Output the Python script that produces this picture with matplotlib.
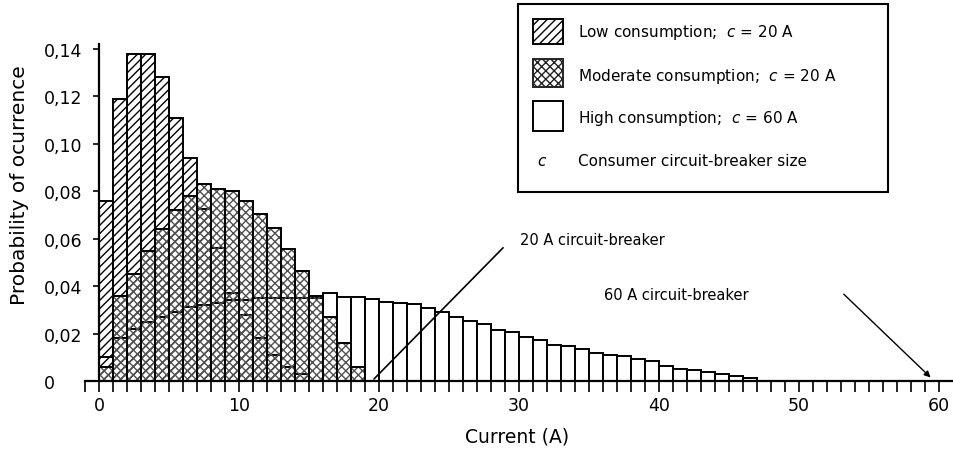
import matplotlib
matplotlib.use("Agg")
import matplotlib.pyplot as plt
import numpy as np
from matplotlib.patches import Rectangle
from matplotlib.ticker import MultipleLocator, FixedLocator

plt.rcParams['font.family'] = ['DejaVu Sans']
plt.rcParams['mathtext.fontset'] = 'dejavusans'
plt.rcParams['hatch.linewidth'] = 1.0

# probability of each 1 A current class (class i covers i..i+1 A)
low = [0.076, 0.119, 0.138, 0.138, 0.128, 0.111, 0.094, 0.0725, 0.056, 0.037,
       0.028, 0.018, 0.011, 0.006, 0.003]
moderate = [0.006, 0.036, 0.045, 0.055, 0.064, 0.072, 0.078, 0.083, 0.081, 0.080,
            0.076, 0.0704, 0.0645, 0.0557, 0.0464, 0.0358, 0.027, 0.016, 0.006]
high = [0.010, 0.018, 0.022, 0.025, 0.027, 0.029, 0.031, 0.032, 0.033, 0.034,
        0.034, 0.035, 0.035, 0.035, 0.035, 0.035, 0.0371, 0.0354, 0.0353, 0.0346,
        0.0335, 0.0327, 0.0325, 0.0307, 0.029, 0.0269, 0.0255, 0.024, 0.0216, 0.0205,
        0.0184, 0.0173, 0.0152, 0.0146, 0.0135, 0.0117, 0.011, 0.0104, 0.0093, 0.0086,
        0.0065, 0.0051, 0.0048, 0.0037, 0.003, 0.002, 0.0013]

y_ticks = [0, 0.02, 0.04, 0.06, 0.08, 0.10, 0.12, 0.14]
y_tick_labels = ['0', '0,02', '0,04', '0,06', '0,08', '0,10', '0,12', '0,14']
x_ticks = [0, 10, 20, 30, 40, 50, 60]
x_tick_labels = ['0', '10', '20', '30', '40', '50', '60']

legend_labels = ['Low consumption;  $c$ = 20 A',
                 'Moderate consumption;  $c$ = 20 A',
                 'High consumption;  $c$ = 60 A',
                 'Consumer circuit-breaker size']

breaker_labels = ['20 A circuit-breaker', '60 A circuit-breaker']
breaker_sizes = [20, 60]

W, H = 954, 452
fig = plt.figure(figsize=(W / 100, H / 100), dpi=100)


def fx(px):
    return px / W


def fy(py):
    return 1 - py / H


ax = fig.add_axes([fx(85), fy(382), (951.6 - 85) / W, (382 - 45) / H])
ax.set_xlim(-1, 60.9)
ax.set_ylim(0, 0.1421)

LOW_HATCH = '////'
MOD_HATCH = 'xxxx'
MOD_COLOR = '#505050'

# high consumption: plain white bars at the back
ax.bar(np.arange(len(high)), high, width=1, align='edge',
       facecolor='white', edgecolor='black', linewidth=1.4, zorder=1)
# low consumption: diagonal hatch
ax.bar(np.arange(len(low)), low, width=1, align='edge',
       fill=False, edgecolor='black', hatch=LOW_HATCH, linewidth=1.4, zorder=2)
# moderate consumption: grey textured hatch with black outline
ax.bar(np.arange(len(moderate)), moderate, width=1, align='edge',
       fill=False, edgecolor=MOD_COLOR, hatch=MOD_HATCH, linewidth=0, zorder=3)
ax.bar(np.arange(len(moderate)), moderate, width=1, align='edge',
       fill=False, edgecolor='black', linewidth=1.4, zorder=3)

# axes styling
for s in ('top', 'right'):
    ax.spines[s].set_visible(False)
ax.spines['left'].set_position(('data', 0))
ax.spines['left'].set_linewidth(1.6)
ax.spines['bottom'].set_linewidth(1.6)

ax.xaxis.set_major_locator(FixedLocator(x_ticks))
ax.set_xticklabels(x_tick_labels)
ax.xaxis.set_minor_locator(MultipleLocator(1))
ax.tick_params(axis='x', which='both', direction='out', length=8, width=1.2,
               labelsize=12.5, pad=3)

ax.set_yticks(y_ticks)
ax.set_yticklabels(y_tick_labels, ha='left')
ax.tick_params(axis='y', direction='out', length=4, width=1.2, labelsize=12.5, pad=36)

fig.text(fx(517), fy(437), 'Current (A)', ha='center', va='center', fontsize=13.5)
fig.text(fx(20), fy(185), 'Probability of ocurrence', ha='center', va='center',
         rotation=90, fontsize=14.5)

# circuit-breaker size markers
ax.annotate('', xy=(breaker_sizes[0] - 0.5, 0.0), xytext=(29.0, 0.057),
            arrowprops=dict(arrowstyle='-', lw=1.2, color='black'))
ax.text(30.1, 0.0595, breaker_labels[0], va='center', ha='left', fontsize=10.5)
ax.text(36.1, 0.0363, breaker_labels[1], va='center', ha='left', fontsize=10.5)
ax.annotate('', xy=(breaker_sizes[1] - 0.6, 0.0015), xytext=(53.2, 0.0366),
            arrowprops=dict(arrowstyle='-|>', lw=1.0, color='black',
                            mutation_scale=9, shrinkA=0, shrinkB=0))

# legend box
fig.patches.append(Rectangle((fx(518), fy(193)), 370 / W, 188 / H,
                             transform=fig.transFigure, facecolor='white',
                             edgecolor='black', linewidth=1.5, zorder=5))
sw_x, sw_w = 533, 30
swatches = [(20, 45, dict(fill=False, edgecolor='black', hatch=LOW_HATCH, linewidth=1.4)),
            (60, 88, dict(fill=False, edgecolor='#222222', hatch='xxxx', linewidth=1.4)),
            (102, 132, dict(facecolor='white', edgecolor='black', linewidth=1.4))]
for top, bot, kw in swatches:
    fig.patches.append(Rectangle((fx(sw_x), fy(bot)), sw_w / W, (bot - top) / H,
                                 transform=fig.transFigure, zorder=6, **kw))
row_y = [33, 77, 118, 162]
for lab, ry in zip(legend_labels, row_y):
    fig.text(fx(578), fy(ry), lab, ha='left', va='center', fontsize=11, zorder=7)
fig.text(fx(537), fy(162), '$c$', ha='left', va='center', fontsize=11, zorder=7)

fig.savefig('out.png', dpi=100)
